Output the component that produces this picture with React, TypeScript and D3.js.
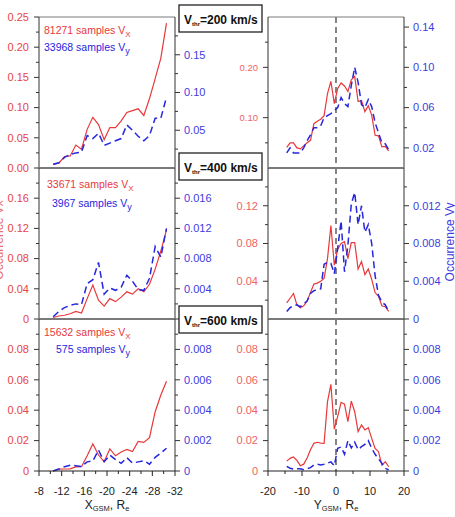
import * as d3 from "d3";

// bins along X_GSM (left column) and Y_GSM (right column)
const XL = [-10.5, -11.5, -12.5, -13.5, -14.5, -15.5, -16.5, -17.5, -18.5, -19.5, -20.5,
  -21.5, -22.5, -23.5, -24.5, -25.5, -26.5, -27.5, -28.5, -29.5, -30.5];
const XR = [-14.5, -13.5, -12.5, -11.5, -10.5, -9.5, -8.5, -7.5, -6.5, -5.5, -4.5, -3.5, -2.5,
  -1.5, -0.5, 0.5, 1.5, 2.5, 3.5, 4.5, 5.5, 6.5, 7.5, 8.5, 9.5, 10.5, 11.5, 12.5, 13.5, 14.5, 15.5];

const vx200L = [0.006, 0.008, 0.019, 0.020, 0.038, 0.031, 0.064, 0.084, 0.072, 0.047, 0.067,
  0.067, 0.078, 0.092, 0.095, 0.098, 0.087, 0.115, 0.148, 0.182, 0.240];
const vy200L = [0.005, 0.007, 0.014, 0.018, 0.020, 0.021, 0.043, 0.039, 0.046, 0.030, 0.033,
  0.036, 0.039, 0.057, 0.050, 0.042, 0.036, 0.043, 0.066, 0.066, 0.094];
const vx400L = [0.002, 0.004, 0.005, 0.007, 0.010, 0.008, 0.027, 0.045, 0.025, 0.017, 0.027,
  0.023, 0.029, 0.036, 0.033, 0.040, 0.036, 0.046, 0.066, 0.090, 0.118];
const vy400L = [0.0003, 0.0010, 0.0015, 0.0018, 0.0020, 0.0019, 0.0047, 0.0052, 0.0075, 0.0033,
  0.0041, 0.0038, 0.0042, 0.0058, 0.0050, 0.0039, 0.0038, 0.0054, 0.0096, 0.0082, 0.0120];
const vx600L = [0.0, 0.0012, 0.0013, 0.0014, 0.0027, 0.0028, 0.0100, 0.0178, 0.0105, 0.0061,
  0.0145, 0.0100, 0.0125, 0.0142, 0.0128, 0.0195, 0.0188, 0.0219, 0.0390, 0.0500, 0.0590];
const vy600L = [0.0, 0.00013, 0.00028, 0.00038, 0.00035, 0.00030, 0.00060, 0.00066, 0.00138,
  0.00061, 0.00105, 0.00075, 0.00050, 0.00088, 0.00052, 0.00060, 0.00068, 0.00045, 0.00090,
  0.00118, 0.00150];

const vx200R = [0.041, 0.050, 0.050, 0.040, 0.038, 0.044, 0.050, 0.055, 0.088, 0.093, 0.097,
  0.104, 0.148, 0.172, 0.128, 0.158, 0.169, 0.163, 0.152, 0.175, 0.182, 0.132, 0.134, 0.112,
  0.124, 0.105, 0.065, 0.064, 0.042, 0.043, 0.034];
const vy200R = [0.015, 0.020, 0.015, 0.015, 0.015, 0.020, 0.027, 0.033, 0.040, 0.040, 0.042,
  0.050, 0.052, 0.054, 0.057, 0.060, 0.070, 0.064, 0.061, 0.082, 0.100, 0.085, 0.063, 0.060,
  0.068, 0.061, 0.045, 0.035, 0.025, 0.024, 0.018];
const vx400R = [0.017, 0.022, 0.027, 0.015, 0.012, 0.014, 0.019, 0.028, 0.037, 0.038, 0.040,
  0.043, 0.064, 0.099, 0.057, 0.074, 0.080, 0.082, 0.064, 0.081, 0.081, 0.053, 0.061, 0.047,
  0.053, 0.042, 0.028, 0.024, 0.014, 0.013, 0.008];
const vy400R = [0.0008, 0.0012, 0.0014, 0.0015, 0.0013, 0.0016, 0.0019, 0.0027, 0.0030, 0.0031,
  0.0032, 0.0058, 0.0060, 0.0059, 0.0048, 0.0075, 0.0104, 0.0050, 0.0078, 0.0122, 0.0134,
  0.0100, 0.0120, 0.0092, 0.0100, 0.0080, 0.0046, 0.0025, 0.0018, 0.0015, 0.0008];
const vx600R = [0.0065, 0.0083, 0.0092, 0.0070, 0.0035, 0.0045, 0.0085, 0.0140, 0.0182, 0.0189,
  0.0184, 0.0182, 0.0456, 0.0570, 0.0275, 0.0360, 0.0452, 0.0440, 0.0325, 0.0460, 0.0390,
  0.0259, 0.0303, 0.0270, 0.0285, 0.0215, 0.0149, 0.0127, 0.0039, 0.0061, 0.0028];
const vy600R = [0.00030, 0.00018, 0.00012, 0.00015, 0.00015, 0.00008, 0.00015, 0.00022, 0.00040,
  0.00044, 0.00040, 0.00045, 0.00052, 0.00060, 0.00035, 0.00150, 0.00158, 0.00110, 0.00200,
  0.00152, 0.00190, 0.00140, 0.00160, 0.00175, 0.00200, 0.00150, 0.00110, 0.00080, 0.00050,
  0.00018, 0.00007];

const samplesVx = ["81271", "33671", "15632"];
const samplesVy = ["33968", "3967", "575"];
const thresholds = ["=200 km/s", "=400 km/s", "=600 km/s"];

// x axis ticks
const xTicksL = [-8, -12, -16, -20, -24, -28, -32];
const xMinorL = [-10, -14, -18, -22, -26, -30];
const xTicksR = [-20, -10, 0, 10, 20];
const xMinorR = [-15, -5, 5, 15];

type Axis = { domain: [number, number]; major: number[]; labels: string[]; minor: number[] };

// left column y axes (red = Vx on left side, blue = Vy on right side)
const redL: Axis[] = [
  { domain: [0, 0.25], major: [0, 0.05, 0.1, 0.15, 0.2, 0.25],
    labels: ["0.00", "0.05", "0.10", "0.15", "0.20", "0.25"], minor: [0.025, 0.075, 0.125, 0.175, 0.225] },
  { domain: [0, 0.2], major: [0, 0.04, 0.08, 0.12, 0.16],
    labels: ["0", "0.04", "0.08", "0.12", "0.16"], minor: [0.02, 0.06, 0.1, 0.14, 0.18] },
  { domain: [0, 0.1], major: [0, 0.02, 0.04, 0.06, 0.08],
    labels: ["0", "0.02", "0.04", "0.06", "0.08"], minor: [0.01, 0.03, 0.05, 0.07, 0.09] },
];
// the "0" labels next to the title boxes are hidden behind them in the reference
const blueL: Axis[] = [
  { domain: [0, 0.2], major: [0.05, 0.1, 0.15], labels: ["0.05", "0.10", "0.15"],
    minor: [0.025, 0.075, 0.125, 0.175] },
  { domain: [0, 0.02], major: [0, 0.004, 0.008, 0.012, 0.016],
    labels: ["", "0.004", "0.008", "0.012", "0.016"], minor: [0.002, 0.006, 0.01, 0.014, 0.018] },
  { domain: [0, 0.01], major: [0, 0.002, 0.004, 0.006, 0.008],
    labels: ["0", "0.002", "0.004", "0.006", "0.008"], minor: [0.001, 0.003, 0.005, 0.007, 0.009] },
];
const redR: Axis[] = [
  { domain: [0, 0.3], major: [0.1, 0.2], labels: ["0.10", "0.20"], minor: [0.05, 0.15, 0.25] },
  { domain: [0, 0.16], major: [0.04, 0.08, 0.12], labels: ["0.04", "0.08", "0.12"],
    minor: [0.02, 0.06, 0.1, 0.14] },
  { domain: [0, 0.1], major: [0, 0.02, 0.04, 0.06, 0.08],
    labels: ["0", "0.02", "0.04", "0.06", "0.08"], minor: [0.01, 0.03, 0.05, 0.07, 0.09] },
];
const blueR: Axis[] = [
  { domain: [0, 0.15], major: [0.02, 0.06, 0.1, 0.14], labels: ["0.02", "0.06", "0.10", "0.14"],
    minor: [0.04, 0.08, 0.12] },
  { domain: [0, 0.016], major: [0, 0.004, 0.008, 0.012], labels: ["0", "0.004", "0.008", "0.012"],
    minor: [0.002, 0.006, 0.01, 0.014] },
  { domain: [0, 0.01], major: [0, 0.002, 0.004, 0.006, 0.008],
    labels: ["0", "0.002", "0.004", "0.006", "0.008"], minor: [0.001, 0.003, 0.005, 0.007, 0.009] },
];

const W = 455;
const H = 517;
const FONT = "'Liberation Sans', Arial, sans-serif";
const RED = "#e8383a";
const RED_TXT = "#e84444";
const RED_TXT_R = "#f06262";
const BLUE = "#2626de";
const BLUE_TXT = "#3c3ce0";

const ROW_Y: [number, number][] = [[17, 168], [168, 319], [319, 471]];
const COL_L = { x0: 39, x1: 175 };
const COL_R = { x0: 268, x1: 404 };

const xL = d3.scaleLinear().domain([-8, -32]).range([COL_L.x0, COL_L.x1]);
const xR = d3.scaleLinear().domain([-20, 20]).range([COL_R.x0, COL_R.x1]);

function YAxis({ axis, y, x, side, color, fontSize }: {
  axis: Axis; y: d3.ScaleLinear<number, number>; x: number; side: "left" | "right";
  color: string; fontSize: number;
}) {
  const s = side === "left" ? -1 : 1;
  return (
    <g>
      {axis.major.map((v) => (
        <line key={"M" + v} x1={x} x2={x + s * 5} y1={y(v)} y2={y(v)} stroke="#333" strokeWidth={1} />
      ))}
      {axis.minor.map((v) => (
        <line key={"m" + v} x1={x} x2={x + s * 3} y1={y(v)} y2={y(v)} stroke="#333" strokeWidth={1} />
      ))}
      {axis.major.map((v, i) => axis.labels[i] ? (
        <text key={"t" + v} x={x + s * (side === "left" ? 10 : 9)} y={y(v)} dy="0.35em"
          textAnchor={side === "left" ? "end" : "start"} fill={color} fontSize={fontSize}>
          {axis.labels[i]}
        </text>
      ) : null)}
    </g>
  );
}

function Panel({ row, right, xs, vx, vy }: {
  row: number; right: boolean; xs: number[]; vx: number[]; vy: number[];
}) {
  const col = right ? COL_R : COL_L;
  const xScale = right ? xR : xL;
  const [y0, y1] = ROW_Y[row];
  const ra = right ? redR[row] : redL[row];
  const ba = right ? blueR[row] : blueL[row];
  const yRed = d3.scaleLinear().domain(ra.domain).range([y1, y0]);
  const yBlue = d3.scaleLinear().domain(ba.domain).range([y1, y0]);
  const lineRed = d3.line<number>().x((_, i) => xScale(xs[i])).y((d) => yRed(d));
  const lineBlue = d3.line<number>().x((_, i) => xScale(xs[i])).y((d) => yBlue(d));
  return (
    <g>
      {right && (
        <line x1={xScale(0)} x2={xScale(0)} y1={y0} y2={y1} stroke="#444" strokeWidth={1.3}
          strokeDasharray="6,4" />
      )}
      <path d={lineRed(vx) ?? ""} fill="none" stroke={RED} strokeWidth={1.2} />
      <path d={lineBlue(vy) ?? ""} fill="none" stroke={BLUE} strokeWidth={1.5} strokeDasharray="7,4" />
      <line x1={col.x0} x2={col.x1} y1={y0} y2={y0} stroke="#7a7a7a" strokeWidth={row === 0 ? 1 : 2} />
      <line x1={col.x0} x2={col.x0} y1={y0} y2={y1} stroke="#333" strokeWidth={1} />
      <line x1={col.x1} x2={col.x1} y1={y0} y2={y1} stroke="#333" strokeWidth={1} />
      <YAxis axis={ra} y={yRed} x={col.x0} side="left"
        color={right ? RED_TXT_R : RED_TXT} fontSize={right && row === 0 ? 9.5 : 11} />
      <YAxis axis={ba} y={yBlue} x={col.x1} side="right" color={BLUE_TXT} fontSize={11} />
    </g>
  );
}

function XAxis({ right }: { right: boolean }) {
  const xScale = right ? xR : xL;
  const col = right ? COL_R : COL_L;
  const major = right ? xTicksR : xTicksL;
  const minor = right ? xMinorR : xMinorL;
  const yb = ROW_Y[2][1];
  const cx = (col.x0 + col.x1) / 2;
  return (
    <g>
      <line x1={col.x0} x2={col.x1} y1={yb} y2={yb} stroke="#222" strokeWidth={1.2} />
      {major.map((v) => (
        <line key={"M" + v} x1={xScale(v)} x2={xScale(v)} y1={yb} y2={yb + 5} stroke="#222" />
      ))}
      {minor.map((v) => (
        <line key={"m" + v} x1={xScale(v)} x2={xScale(v)} y1={yb} y2={yb + 3} stroke="#222" />
      ))}
      {major.map((v) => (
        <text key={"t" + v} x={xScale(v)} y={yb + 24} textAnchor="middle" fontSize={11} fill="#222">
          {v}
        </text>
      ))}
      <text x={cx} y={yb + 38} textAnchor="middle" fontSize={12} fill="#222">
        {right ? "Y" : "X"}
        <tspan fontSize={7.5} dy={2}>GSM</tspan>
        <tspan dy={-2}>, R</tspan>
        <tspan fontSize={7.5} dy={2}>e</tspan>
      </text>
    </g>
  );
}

const legendPos = [
  { rx: 44, ry: 34, bx: 44, by: 51 },
  { rx: 47, ry: 188, bx: 52, by: 207 },
  { rx: 44, ry: 336, bx: 56, by: 353 },
];
const boxY = [5, 153, 306];

export default function App() {
  const left = [[vx200L, vy200L], [vx400L, vy400L], [vx600L, vy600L]];
  const rightData = [[vx200R, vy200R], [vx400R, vy400R], [vx600R, vy600R]];
  return (
    <svg width={W} height={H} viewBox={`0 0 ${W} ${H}`} fontFamily={FONT}
      style={{ position: "absolute", left: 0, top: 0, background: "#fff" }}>
      <rect width={W} height={H} fill="#fff" />
      {left.map(([vx, vy], r) => (
        <Panel key={"L" + r} row={r} right={false} xs={XL} vx={vx} vy={vy} />
      ))}
      {rightData.map(([vx, vy], r) => (
        <Panel key={"R" + r} row={r} right={true} xs={XR} vx={vx} vy={vy} />
      ))}
      <XAxis right={false} />
      <XAxis right={true} />

      {legendPos.map((p, r) => (
        <g key={"lg" + r} fontSize={10.5}>
          <text x={p.rx} y={p.ry} fill={RED}>
            {samplesVx[r]} samples V<tspan fontSize={8} dy={3}>X</tspan>
          </text>
          <text x={p.bx} y={p.by} fill={BLUE}>
            {samplesVy[r]} samples V<tspan fontSize={9} dy={3}>y</tspan>
          </text>
        </g>
      ))}

      {/* left axis title sits mostly outside the picture, as in the reference */}
      <text transform="translate(3,240) rotate(-90)" textAnchor="middle" fontSize={12} fill={RED_TXT}
        opacity={0.8}>
        Occurrence Vx
      </text>
      <text transform="translate(454,242) rotate(-90)" textAnchor="middle" fontSize={12} fill={BLUE_TXT}>
        Occurrence Vy
      </text>

      {boxY.map((by, r) => (
        <g key={"bx" + r}>
          <rect x={179} y={by} width={83} height={27} fill="#fff" stroke="#222" strokeWidth={1.3} />
          <text x={184} y={by + 19} fontSize={12} fontWeight="bold" fill="#111">
            V<tspan fontSize={6} dy={2}>thr</tspan>
            <tspan dy={-2}>{thresholds[r]}</tspan>
          </text>
        </g>
      ))}
    </svg>
  );
}
